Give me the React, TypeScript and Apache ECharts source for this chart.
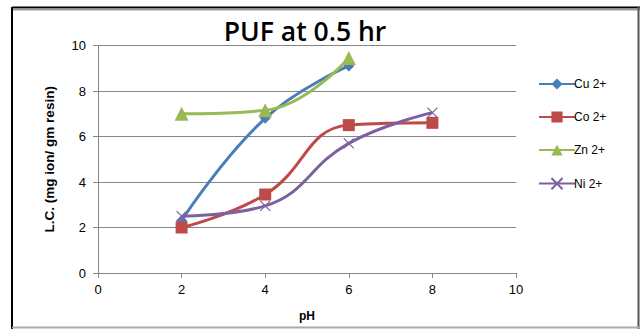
import React, { useEffect, useRef } from "react";
import * as echarts from "echarts";

const xTicks = [0, 2, 4, 6, 8, 10];
const cuX = [2, 4, 6];
const cuY = [2.3, 6.8, 9.1];
const coX = [2, 4, 6, 8];
const coY = [2.0, 3.45, 6.5, 6.6];
const znX = [2, 4, 6];
const znY = [7.0, 7.15, 9.45];
const niX = [2, 4, 6, 8];
const niY = [2.5, 2.95, 5.7, 7.05];
const seriesNames = ["Cu 2+", "Co 2+", "Zn 2+", "Ni 2+"];
const colors = ["#4A7EBB", "#BE4B48", "#98B954", "#7D60A0"];

const zip = (xs: number[], ys: number[]) => xs.map((x, i) => [x, ys[i]]);

export default function App() {
  const ref = useRef<HTMLDivElement>(null);
  useEffect(() => {
    const chart = echarts.init(ref.current!, null, { renderer: "svg" });
    const font = "'Liberation Sans', Arial, sans-serif";
    const cross = "path://M0,0L10,10M10,0L0,10";
    const mk = (i: number, data: number[][], symbol: string, size: number, extra: any = {}) => ({
      name: seriesNames[i],
      type: "line",
      smooth: 0.45,
      data,
      symbol,
      symbolSize: size,
      lineStyle: { color: colors[i], width: 3 },
      itemStyle: { color: colors[i], ...extra },
      z: 2 + i,
    });
    chart.setOption({
      animation: false,
      backgroundColor: "#ffffff",
      title: {
        text: "PUF at 0.5 hr",
        left: 300,
        top: 12,
        textAlign: "center",
        textStyle: { fontFamily: "'Open Sans', sans-serif", fontSize: 26.5, fontWeight: 600, color: "#000" },
      },
      graphic: [
        { type: "line", shape: { x1: 12, y1: 7.5, x2: 640, y2: 7.5 }, style: { stroke: "#000", lineWidth: 2 } },
        { type: "line", shape: { x1: 12, y1: 9.5, x2: 640, y2: 9.5 }, style: { stroke: "#999", lineWidth: 2 } },
        { type: "line", shape: { x1: 12, y1: 7, x2: 12, y2: 329 }, style: { stroke: "#000", lineWidth: 2 } },
        { type: "line", shape: { x1: 638.5, y1: 7, x2: 638.5, y2: 329 }, style: { stroke: "#555", lineWidth: 2 } },
        { type: "line", shape: { x1: 12, y1: 327.5, x2: 640, y2: 327.5 }, style: { stroke: "#aaa", lineWidth: 2 } },
      ],
      legend: {
        orient: "vertical",
        left: 533,
        top: 73,
        itemGap: 21,
        itemWidth: 36,
        itemHeight: 14,
        data: seriesNames,
        textStyle: { fontFamily: font, fontSize: 12, color: "#000", padding: [0, 0, 0, -6] },
      },
      grid: { left: 98, right: 124, top: 45.5, bottom: 56 },
      xAxis: {
        type: "value",
        min: xTicks[0],
        max: xTicks[xTicks.length - 1],
        interval: 2,
        name: "pH",
        nameLocation: "middle",
        nameGap: 37,
        nameTextStyle: { fontFamily: font, fontSize: 12, fontWeight: "bold", color: "#000" },
        axisLine: { lineStyle: { color: "#868686" } },
        axisTick: { show: true, length: 5, lineStyle: { color: "#868686" } },
        axisLabel: { fontFamily: font, fontSize: 13, color: "#000", margin: 10 },
        splitLine: { show: false },
      },
      yAxis: {
        type: "value",
        min: 0,
        max: 10,
        interval: 2,
        name: "L.C. (mg ion/ gm resin)",
        nameLocation: "middle",
        nameGap: 42,
        nameTextStyle: { fontFamily: font, fontSize: 13.5, fontWeight: "bold", color: "#000" },
        axisLine: { show: true, lineStyle: { color: "#868686" } },
        axisTick: { show: true, length: 5, lineStyle: { color: "#868686" } },
        axisLabel: { fontFamily: font, fontSize: 13, color: "#000", margin: 12 },
        splitLine: { lineStyle: { color: "#868686" } },
      },
      series: [
        mk(0, zip(cuX, cuY), "diamond", 11),
        mk(1, zip(coX, coY), "rect", 12),
        mk(2, zip(znX, znY), "triangle", 14),
        mk(3, zip(niX, niY), cross, 10, { borderColor: colors[3], borderWidth: 1.2 }),
      ],
    });
    return () => chart.dispose();
  }, []);
  return <div ref={ref} style={{ position: "absolute", left: 0, top: 0, width: 640, height: 329 }} />;
}
